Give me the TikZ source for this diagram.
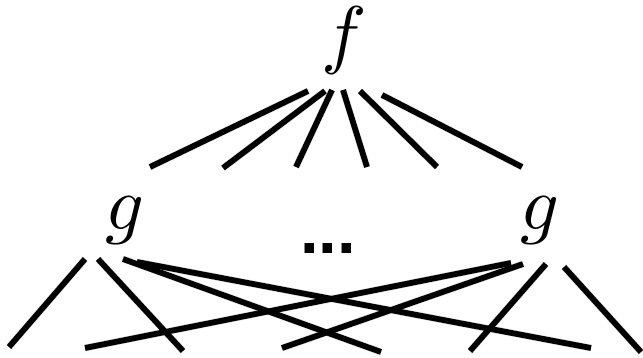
\documentclass[tikz,border=0pt]{standalone}
\usepackage{fontspec}
\newfontfamily\dotfont{Liberation Sans}
\tikzset{
  edge/.style={line width=5.8pt, line cap=butt},
  edgeshadow/.style={line width=7pt, line cap=butt, black!10, shift={(1pt,-2pt)}},
  lbl/.style={inner sep=0pt, anchor=base, scale=7.6},
  dotlbl/.style={inner sep=0pt, anchor=base, font=\dotfont\bfseries\fontsize{67}{70}\selectfont}
}
\begin{document}
\begin{tikzpicture}[x=1pt,y=-1pt]
\useasboundingbox (0,0) rectangle (643,358);
\node[lbl] (f) at (344,60) {$f$};
\node[lbl] (gl) at (125,230) {$g$};
\node[lbl] (gr) at (540,230) {$g$};
\node[dotlbl] (dots) at (328,254) {...};
% top fan
\coordinate (t1a) at (308,91);  \coordinate (t1b) at (150,167);
\coordinate (t2a) at (325,91);  \coordinate (t2b) at (223,168);
\coordinate (t3a) at (332,90);  \coordinate (t3b) at (296,167);
\coordinate (t4a) at (343,90);  \coordinate (t4b) at (367,167);
\coordinate (t5a) at (360,91);  \coordinate (t5b) at (437,167);
\coordinate (t6a) at (382,95);  \coordinate (t6b) at (522,167);
% left g
\coordinate (l1a) at (85,259);  \coordinate (l1b) at (9,347);
\coordinate (l2a) at (98,259);  \coordinate (l2b) at (183,351);
\coordinate (l3a) at (123,259); \coordinate (l3b) at (381,352);
\coordinate (l4a) at (137,262); \coordinate (l4b) at (591,348);
% right g
\coordinate (r1a) at (511,263); \coordinate (r1b) at (85,348);
\coordinate (r2a) at (523,264); \coordinate (r2b) at (282,348);
\coordinate (r3a) at (546,264); \coordinate (r3b) at (470,351);
\coordinate (r4a) at (564,267); \coordinate (r4b) at (641,352);
% shadows
\foreach \i in {1,...,6} \draw[edgeshadow] (t\i a) -- (t\i b);
\foreach \i in {1,...,4} {
  \draw[edgeshadow] (l\i a) -- (l\i b);
  \draw[edgeshadow] (r\i a) -- (r\i b);
}
% lines
\foreach \i in {1,...,6} \draw[edge] (t\i a) -- (t\i b);
\foreach \i in {1,...,4} {
  \draw[edge] (l\i a) -- (l\i b);
  \draw[edge] (r\i a) -- (r\i b);
}
\end{tikzpicture}
\end{document}
